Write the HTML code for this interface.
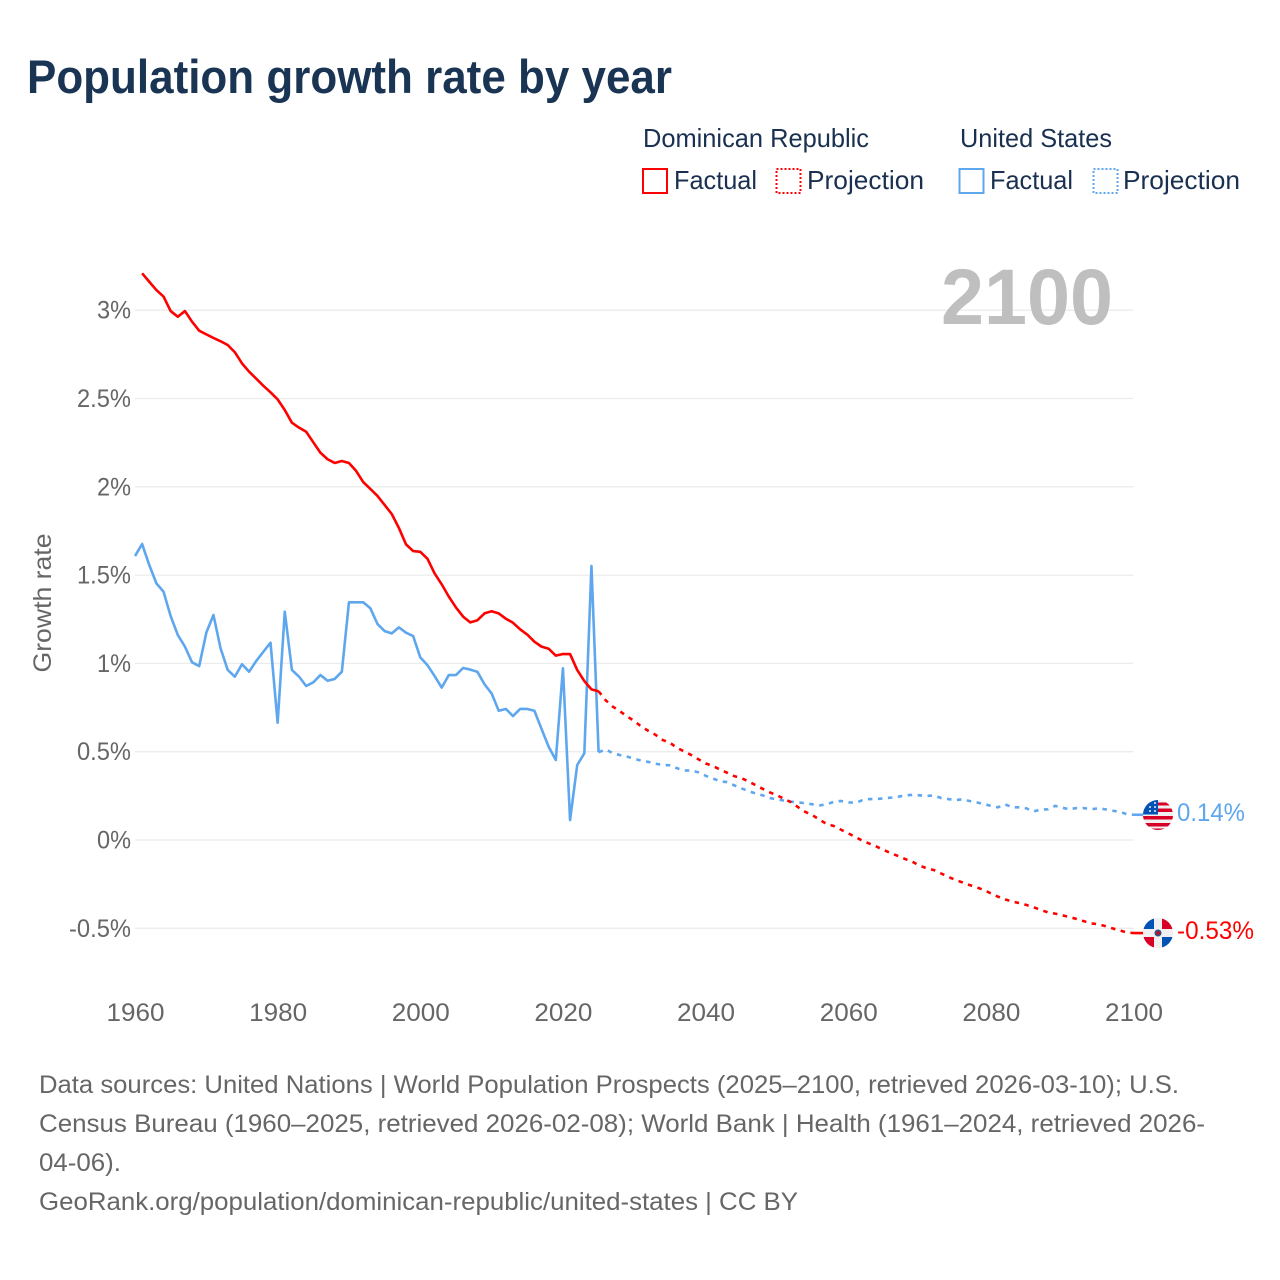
<!DOCTYPE html>
<html lang="en">
<head>
<meta charset="utf-8">
<title>Population growth rate by year</title>
<style>
html,body{margin:0;padding:0;background:#fff;}
svg{display:block;font-family:"Liberation Sans",sans-serif;}
.tick{font-size:25px;fill:#666;}
.foot{font-size:25px;fill:#666;}
.leg{font-size:26px;fill:#1a3050;}
</style>
</head>
<body>
<svg id="chart" xmlns="http://www.w3.org/2000/svg" width="1280" height="1280" viewBox="0 0 1280 1280">
  <defs>
    <clipPath id="clip-us"><circle cx="1158" cy="815" r="15"/></clipPath>
    <clipPath id="clip-dr"><circle cx="1158" cy="933" r="15"/></clipPath>
  </defs>
  <rect width="1280" height="1280" fill="#fff"/>
  <text x="27" y="93" font-size="47" font-weight="700" fill="#1a3554" textLength="645" lengthAdjust="spacingAndGlyphs">Population growth rate by year</text>

  <g>
    <text class="leg" x="643" y="147" textLength="226" lengthAdjust="spacingAndGlyphs">Dominican Republic</text>
    <text class="leg" x="960" y="147" textLength="152" lengthAdjust="spacingAndGlyphs">United States</text>
    <rect x="643" y="169" width="24" height="24" fill="none" stroke="#ff0000" stroke-width="2"/>
    <text class="leg" x="674" y="189" textLength="83" lengthAdjust="spacingAndGlyphs">Factual</text>
    <rect x="776.5" y="169" width="24" height="24" fill="none" stroke="#ff0000" stroke-width="2" stroke-dasharray="2 2"/>
    <text class="leg" x="807" y="189" textLength="117" lengthAdjust="spacingAndGlyphs">Projection</text>
    <rect x="959.5" y="169" width="24" height="24" fill="none" stroke="#5ea7ee" stroke-width="2"/>
    <text class="leg" x="990" y="189" textLength="83" lengthAdjust="spacingAndGlyphs">Factual</text>
    <rect x="1093.5" y="169" width="24" height="24" fill="none" stroke="#5ea7ee" stroke-width="2" stroke-dasharray="2 2"/>
    <text class="leg" x="1123" y="189" textLength="117" lengthAdjust="spacingAndGlyphs">Projection</text>
  </g>

  <g id="grid"></g>
  <text x="941" y="324" font-size="79" font-weight="700" fill="#bfbfbf" textLength="172" lengthAdjust="spacingAndGlyphs">2100</text>
  <g id="y-ticks"></g>
  <g id="x-ticks"></g>
  <text transform="translate(51 603) rotate(-90)" text-anchor="middle" font-size="25" fill="#666" textLength="139" lengthAdjust="spacingAndGlyphs">Growth rate</text>
  <g id="series"></g>

  <g clip-path="url(#clip-us)">
    <rect x="1143" y="800" width="30" height="30" fill="#f0f0f0"/>
    <rect x="1143" y="802.5" width="30" height="3" fill="#d80027"/>
    <rect x="1143" y="808.5" width="30" height="3.5" fill="#d80027"/>
    <rect x="1143" y="816" width="30" height="3.5" fill="#d80027"/>
    <rect x="1143" y="823" width="30" height="3.5" fill="#d80027"/>
    <rect x="1143" y="828.5" width="30" height="2" fill="#d80027"/>
    <rect x="1143" y="800" width="15" height="14.5" fill="#0052b4"/>
    <circle cx="1150" cy="807" r="1" fill="#eee"/><circle cx="1155" cy="803" r="1" fill="#eee"/><circle cx="1155" cy="807" r="1" fill="#eee"/><circle cx="1155" cy="811" r="1" fill="#eee"/><circle cx="1150" cy="811" r="1" fill="#eee"/>
  </g>
  <g clip-path="url(#clip-dr)">
    <rect x="1143" y="918" width="30" height="30" fill="#f0f0f0"/>
    <rect x="1143" y="918" width="11" height="11" fill="#0052b4"/>
    <rect x="1162" y="918" width="11" height="11" fill="#d80027"/>
    <rect x="1143" y="937" width="11" height="11" fill="#d80027"/>
    <rect x="1162" y="937" width="11" height="11" fill="#0052b4"/>
    <circle cx="1158" cy="933" r="3.5" fill="#33507f"/>
    <circle cx="1158" cy="933" r="1.7" fill="#d80027"/>
  </g>
  <text x="1177" y="821" font-size="25" fill="#5ea7ee" textLength="68" lengthAdjust="spacingAndGlyphs">0.14%</text>
  <text x="1177" y="939" font-size="25" fill="#ff0000" textLength="77" lengthAdjust="spacingAndGlyphs">-0.53%</text>

  <g>
    <text class="foot" x="39" y="1093" textLength="1140" lengthAdjust="spacingAndGlyphs">Data sources: United Nations | World Population Prospects (2025–2100, retrieved 2026-03-10); U.S.</text>
    <text class="foot" x="39" y="1132" textLength="1166" lengthAdjust="spacingAndGlyphs">Census Bureau (1960–2025, retrieved 2026-02-08); World Bank | Health (1961–2024, retrieved 2026-</text>
    <text class="foot" x="39" y="1171" textLength="82" lengthAdjust="spacingAndGlyphs">04-06).</text>
    <text class="foot" x="39" y="1210" textLength="759" lengthAdjust="spacingAndGlyphs">GeoRank.org/population/dominican-republic/united-states | CC BY</text>
  </g>
</svg>
<script>
const xTickYears = [1960, 1980, 2000, 2020, 2040, 2060, 2080, 2100];
const yTickValues = [-0.5, 0, 0.5, 1, 1.5, 2, 2.5, 3];
const yTickLabels = ["-0.5%", "0%", "0.5%", "1%", "1.5%", "2%", "2.5%", "3%"];

const drFactualStart = 1961;
const drFactual = [3.209,3.161,3.114,3.077,2.995,2.963,2.995,2.935,2.884,2.863,2.843,2.824,2.803,2.762,2.699,2.652,2.612,2.572,2.535,2.495,2.435,2.363,2.335,2.312,2.252,2.193,2.156,2.135,2.146,2.135,2.09,2.027,1.988,1.948,1.897,1.846,1.767,1.674,1.636,1.632,1.593,1.51,1.448,1.378,1.317,1.265,1.232,1.244,1.283,1.295,1.283,1.253,1.23,1.193,1.163,1.123,1.095,1.083,1.044,1.053,1.053,0.963,0.9,0.853,0.842];

const drProjectionStart = 2025;
const drProjection = [0.842,0.791,0.755,0.729,0.7,0.674,0.642,0.617,0.595,0.566,0.551,0.521,0.502,0.481,0.457,0.434,0.419,0.4,0.381,0.362,0.351,0.332,0.311,0.29,0.27,0.253,0.234,0.213,0.185,0.159,0.14,0.115,0.09,0.079,0.058,0.038,0.017,-0.004,-0.021,-0.038,-0.057,-0.075,-0.091,-0.108,-0.123,-0.145,-0.16,-0.17,-0.189,-0.208,-0.226,-0.24,-0.255,-0.268,-0.283,-0.302,-0.321,-0.336,-0.349,-0.357,-0.368,-0.381,-0.396,-0.41,-0.417,-0.426,-0.436,-0.447,-0.459,-0.472,-0.477,-0.487,-0.5,-0.511,-0.523,-0.527];

const usFactualStart = 1960;
const usFactual = [1.608,1.676,1.557,1.453,1.406,1.268,1.161,1.095,1.006,0.985,1.174,1.274,1.085,0.963,0.925,0.995,0.953,1.014,1.066,1.117,0.664,1.293,0.963,0.925,0.872,0.893,0.934,0.902,0.912,0.953,1.346,1.346,1.346,1.312,1.223,1.183,1.17,1.204,1.174,1.155,1.034,0.99,0.929,0.863,0.934,0.934,0.974,0.965,0.953,0.882,0.83,0.732,0.742,0.702,0.742,0.742,0.732,0.629,0.528,0.453,0.972,0.113,0.424,0.491,1.552,0.497];

const usProjectionStart = 2025;
const usProjection = [0.497,0.513,0.491,0.481,0.472,0.46,0.449,0.442,0.432,0.425,0.423,0.406,0.394,0.393,0.383,0.364,0.349,0.332,0.328,0.31,0.293,0.277,0.264,0.253,0.238,0.23,0.223,0.217,0.213,0.208,0.202,0.196,0.202,0.217,0.221,0.213,0.211,0.225,0.232,0.232,0.236,0.24,0.245,0.253,0.255,0.253,0.249,0.253,0.238,0.232,0.226,0.23,0.221,0.213,0.204,0.193,0.185,0.202,0.185,0.185,0.179,0.162,0.172,0.174,0.193,0.183,0.174,0.181,0.181,0.174,0.179,0.174,0.166,0.16,0.147,0.143];

const SVG_NS = "http://www.w3.org/2000/svg";
function xScale(year) { return 135 + (year - 1960) * (998.5 / 140); }
function yScale(value) { return 840 - value * 176.6; }

const glyphWidths = { "-": 8, ".": 5.5, "%": 19.5 };
function labelWidth(text) {
  let total = 0;
  for (const ch of text) total += glyphWidths[ch] || 14.5;
  return total;
}

function pathFrom(startYear, values) {
  return values.map(function (v, i) {
    return (i ? "L" : "M") + xScale(startYear + i).toFixed(2) + " " + yScale(v).toFixed(2);
  }).join(" ");
}

const gridGroup = document.getElementById("grid");
const yTickGroup = document.getElementById("y-ticks");
const xTickGroup = document.getElementById("x-ticks");
const seriesGroup = document.getElementById("series");

yTickValues.forEach(function (value, i) {
  const line = document.createElementNS(SVG_NS, "line");
  line.setAttribute("x1", xScale(1960));
  line.setAttribute("x2", xScale(2100));
  line.setAttribute("y1", yScale(value));
  line.setAttribute("y2", yScale(value));
  line.setAttribute("stroke", "#ececec");
  line.setAttribute("stroke-width", "1.3");
  
  
  gridGroup.appendChild(line);

  const label = document.createElementNS(SVG_NS, "text");
  const w = labelWidth(yTickLabels[i]);
  label.setAttribute("x", 131 - w);
  label.setAttribute("y", yScale(value) + 8.5);
  label.setAttribute("class", "tick");
  label.setAttribute("textLength", w);
  label.setAttribute("lengthAdjust", "spacingAndGlyphs");
  
  
  label.textContent = yTickLabels[i];
  yTickGroup.appendChild(label);
});

xTickYears.forEach(function (year) {
  const label = document.createElementNS(SVG_NS, "text");
  label.setAttribute("x", xScale(year) - 28.5);
  label.setAttribute("y", 1021);
  label.setAttribute("class", "tick");
  label.setAttribute("textLength", 58);
  label.setAttribute("lengthAdjust", "spacingAndGlyphs");
  
  
  label.textContent = String(year);
  xTickGroup.appendChild(label);
});

function addLine(d, color, dashed, name) {
  const p = document.createElementNS(SVG_NS, "path");
  p.setAttribute("d", d);
  p.setAttribute("fill", "none");
  p.setAttribute("stroke", color);
  p.setAttribute("stroke-width", "2.6");
  p.setAttribute("stroke-linejoin", "round");
  if (dashed) p.setAttribute("stroke-dasharray", "4.5 5.5");
  
  
  seriesGroup.appendChild(p);
}

const RED = "#ff0000";
const BLUE = "#5ea7ee";
addLine(pathFrom(usFactualStart, usFactual), BLUE, false, "us-factual-line");
addLine(pathFrom(usProjectionStart, usProjection), BLUE, true, "us-projection-line");
addLine(pathFrom(drFactualStart, drFactual), RED, false, "dr-factual-line");
addLine(pathFrom(drProjectionStart, drProjection), RED, true, "dr-projection-line");

const usEndY = yScale(usProjection[usProjection.length - 1]);
const drEndY = yScale(drProjection[drProjection.length - 1]);
addLine("M" + xScale(2100) + " " + usEndY + " H1146", BLUE, false, "us-end-connector");
addLine("M" + xScale(2100) + " " + drEndY + " H1146", RED, false, "dr-end-connector");
</script>
</body>
</html>
